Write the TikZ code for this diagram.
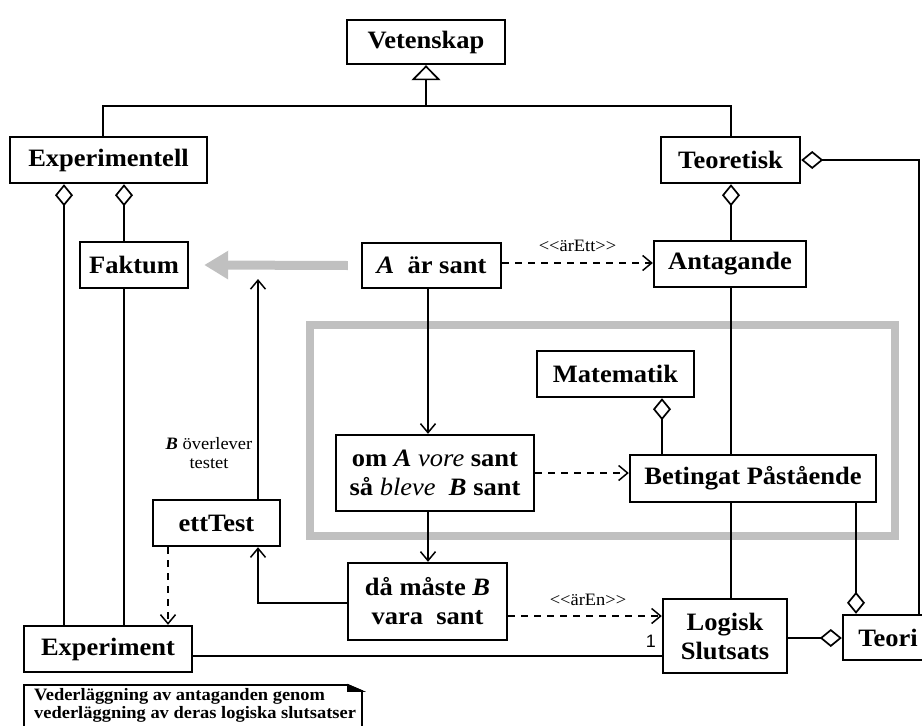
\documentclass[tikz,border=0pt]{standalone}
\usepackage{fontspec}
\setmainfont{Liberation Serif}[FakeStretch=1.06]
\newfontfamily\lblsans{Liberation Sans}
\usetikzlibrary{arrows.meta}
\definecolor{framegray}{RGB}{192,192,192}
\newcommand\boxfont{\bfseries\fontsize{25}{29}\selectfont}
\newcommand\lblfont{\fontsize{17.4}{19.5}\selectfont}
\newcommand\notefont{\bfseries\fontsize{17.4}{18}\selectfont}
\begin{document}
\begin{tikzpicture}[x=1pt,y=-1pt,
  box/.style={draw, line width=2.4pt, fill=white, font=\boxfont, inner sep=0pt, align=center},
  conn/.style={line width=1.7pt},
  agg/.style={conn, {Diamond[open,length=22pt,width=18pt]}-},
  aggend/.style={conn, -{Diamond[open,length=22pt,width=18pt]}},
  arr/.style={line width=1.5pt, -{Straight Barb[length=9pt,width=15pt]}},
  darr/.style={arr, dash pattern=on 7pt off 6pt},
  lbl/.style={font=\lblfont, inner sep=0pt},
]
\useasboundingbox (0,0) rectangle (922,726);

% grey frame around the mathematical part
\draw[line width=8pt, framegray] (310,325) rectangle (895,536);

% helper coordinates for vertical and horizontal runs
\coordinate (c64) at (64,0);
\coordinate (c103) at (103,0);
\coordinate (c124) at (124,0);
\coordinate (c168) at (168,0);
\coordinate (c258) at (258,0);
\coordinate (c428) at (428,0);
\coordinate (c662) at (662,0);
\coordinate (c731) at (731,0);
\coordinate (c856) at (856,0);
\coordinate (c919) at (919,0);
\coordinate (r263) at (0,263);
\coordinate (r603) at (0,603);
\coordinate (r616) at (0,616);
\coordinate (r638) at (0,638);
\coordinate (r656) at (0,656);
\coordinate (hub) at (426,106);
\coordinate (uptip) at (258,279);

% classes and statements
\node[box, minimum width=158pt, minimum height=44pt] (Vetenskap) at (426,42) {Vetenskap};
\node[box, minimum width=197pt, minimum height=46pt] (Experimentell) at (108.5,160) {Experimentell};
\node[box, minimum width=139pt, minimum height=46pt] (Teoretisk) at (730.5,160) {Teoretisk};
\node[box, minimum width=108pt, minimum height=46pt] (Faktum) at (134,265) {Faktum};
\node[box, minimum width=139pt, minimum height=45pt] (Asant) at (431.5,265.5) {\textit{A}\ \ är sant};
\node[box, minimum width=152pt, minimum height=46pt] (Antagande) at (730,264) {Antagande};
\node[box, minimum width=157pt, minimum height=46pt] (Matematik) at (615.5,374) {Matematik};
\node[box, minimum width=198pt, minimum height=76pt] (Om) at (435,473)
  {om \textit{A} \textit{\mdseries vore} sant\\så \textit{\mdseries bleve}\ \ \textit{B} sant};
\node[box, minimum width=246pt, minimum height=47pt] (Betingat) at (753,478.5) {Betingat Påstående};
\node[box, minimum width=127pt, minimum height=46pt] (ettTest) at (216.5,523) {ettTest};
\node[box, minimum width=159pt, minimum height=77pt] (Dam) at (427.5,601.5) {då måste \textit{B}\\vara\ \ sant};
\node[box, minimum width=168pt, minimum height=46pt] (Experiment) at (108,649) {Experiment};
\node[box, minimum width=124pt, minimum height=74pt] (Logisk) at (725,636) {Logisk\\Slutsats};
\node[box, minimum width=90pt, minimum height=45pt] (Teori) at (888,637.5) {Teori};

% generalisation
\draw[conn, {Triangle[open,length=15pt,width=29pt]}-] (Vetenskap.south) -- (hub);
\draw[conn] (Experimentell.north -| c103) |- (hub) -| (Teoretisk.north -| c731);

% aggregations
\draw[agg] (Experimentell.south -| c64) -- (Experiment.north -| c64);
\draw[agg] (Experimentell.south -| c124) -- (Faktum.north -| c124);
\draw[conn] (Faktum.south -| c124) -- (Experiment.north -| c124);
\draw[agg] (Teoretisk.south -| c731) -- (Antagande.north -| c731);
\draw[conn] (Antagande.south -| c731) -- (Betingat.north -| c731);
\draw[conn] (Betingat.south -| c731) -- (Logisk.north -| c731);
\draw[agg] (Teoretisk.east) -| (Teori.north -| c919);
\draw[agg] (Matematik.south -| c662) -- (Betingat.north -| c662);
\draw[aggend] (Betingat.south -| c856) -- (Teori.north -| c856);
\draw[aggend] (Logisk.east |- r638) -- (Teori.west |- r638);
\draw[conn] (Experiment.east |- r656) -- (Logisk.west |- r656)
  node[pos=1, xshift=-11pt, yshift=15pt, inner sep=0pt, font=\lblsans\fontsize{18}{20}\selectfont] {1};

% reasoning arrows
\draw[arr] (Asant.south -| c428) -- (Om.north -| c428);
\draw[arr] (Om.south -| c428) -- (Dam.north -| c428);
\draw[darr] (Om.east) -- (Betingat.west |- Om.east);
\draw[darr] (Asant.east |- r263) -- (Antagande.west |- r263)
  node[midway, lbl, yshift=17pt] {<{}<ärEtt>{}>};
\draw[darr] (Dam.east |- r616) -- (Logisk.west |- r616)
  node[midway, lbl, yshift=16pt, xshift=3pt] {<{}<ärEn>{}>};
\draw[arr] (Dam.west |- r603) -| (ettTest.south -| c258);
\draw[arr] (ettTest.north -| c258) -- (uptip);
\draw[darr] (ettTest.south -| c168) -- (Experiment.north -| c168);
\node[lbl, align=center] (survives) at (209,453) {\textbf{\textit{B}} överlever\\testet};

% broad grey arrow towards Faktum
\draw[line width=9pt, framegray, -{Triangle[length=24pt,width=27pt]}]
  ([xshift=-13pt]Asant.west) -- ([xshift=15pt]Faktum.east);

% note with folded corner
\draw[line width=1.6pt] (24,745) -- (24,685) -- (348,685) -- (362,691) -- (362,745);
\draw[line width=1.6pt, fill=black] (348,685) -- (348,691) -- (362,691) -- cycle;
\node[font=\notefont, align=left, anchor=north west, inner sep=0pt] (note) at (34,688)
  {Vederläggning av antaganden genom\\vederläggning av deras logiska slutsatser};
\end{tikzpicture}
\end{document}
